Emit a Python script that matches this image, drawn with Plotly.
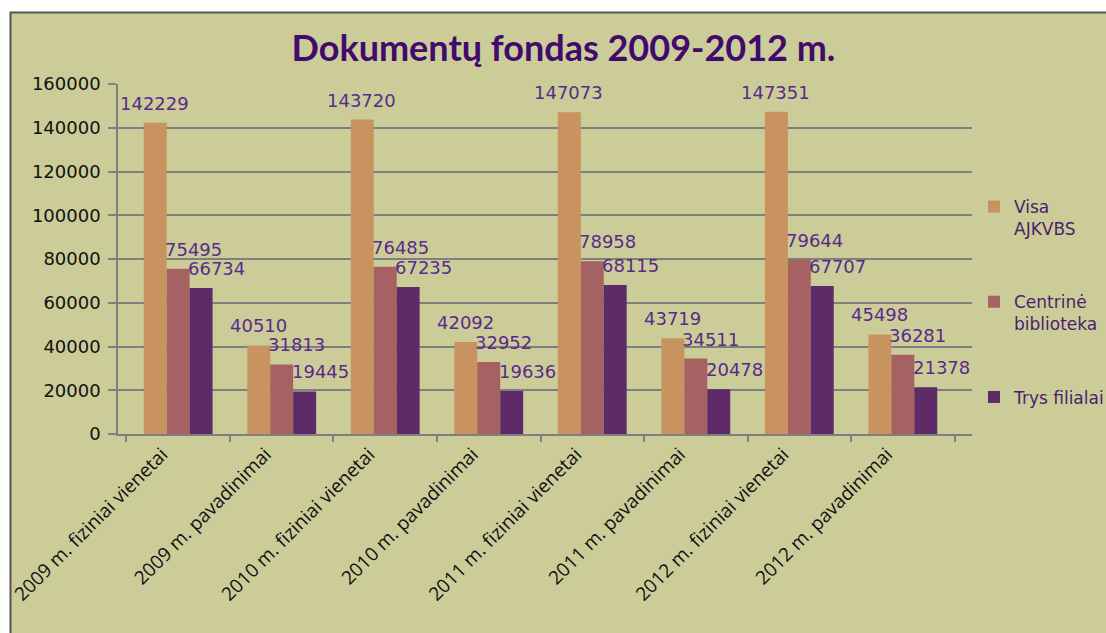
import plotly.graph_objects as go

categories = [
    "2009 m. fiziniai vienetai",
    "2009 m. pavadinimai",
    "2010 m. fiziniai vienetai",
    "2010 m. pavadinimai",
    "2011 m. fiziniai vienetai",
    "2011 m. pavadinimai",
    "2012 m. fiziniai vienetai",
    "2012 m. pavadinimai",
]
visa = [142229, 40510, 143720, 42092, 147073, 43719, 147351, 45498]
centrine = [75495, 31813, 76485, 32952, 78958, 34511, 79644, 36281]
filialai = [66734, 19445, 67235, 19636, 68115, 20478, 67707, 21378]
series_names = ["Visa<br>AJKVBS", "Centrinė<br>biblioteka", "Trys filialai"]
series_values = [visa, centrine, filialai]
colors = ["#C8935E", "#A66262", "#5E2A68"]
y_ticks = list(range(0, 160001, 20000))

W, H = 1106, 633
L, R, T, B = 118, 972, 84, 434
pw, ph = R - L, B - T


def px(x):
    return (x - L) / pw


def py(y):
    return (B - y) / ph


fig = go.Figure()
for i, (name, vals, col) in enumerate(zip(series_names, series_values, colors)):
    fig.add_trace(go.Bar(
        x=categories, y=vals, name=name,
        marker=dict(color=col, line=dict(width=0)),
        legendgroup=str(i),
    ))

bar_px = pw / len(categories) * 0.665 / 3
extra = [0, 15, 15]
annotations = []
for j, vals in enumerate(series_values):
    for c, v in zip(categories, vals):
        annotations.append(dict(
            x=c, y=v, xref="x", yref="y", text=str(v), showarrow=False,
            xanchor="center", yanchor="bottom",
            xshift=(j - 1) * bar_px + extra[j], yshift=7,
            font=dict(family="DejaVu Sans", size=18, color="#5A2A8A"),
        ))

shapes = [
    dict(type="rect", xref="paper", yref="paper", layer="below",
         x0=px(10.5), x1=px(1300), y0=py(900), y1=py(12.5),
         fillcolor="#CCCC99", line=dict(color="#555555", width=2)),
]

fig.update_layout(
    width=W, height=H,
    margin=dict(l=L, r=W - R, t=T, b=H - B, autoexpand=False),
    paper_bgcolor="white",
    plot_bgcolor="#CCCCCC",
    barmode="group", bargap=0.335, bargroupgap=0,
    title=dict(text="<b>Dokumentų fondas 2009-2012 m.</b>",
               x=563.5 / W, xanchor="center", xref="container",
               y=1 - 48 / H, yanchor="middle", yref="container",
               font=dict(family="Lato", size=36, color="#420A6C")),
    xaxis=dict(
        type="category", tickangle=-45, tickson="boundaries",
        ticks="outside", ticklen=6, tickcolor="#7F7F7F", tickwidth=1.5,
        showline=True, linecolor="#7F7F7F", linewidth=1.5,
        showgrid=False, ticklabelshift=-16,
        tickfont=dict(family="Open Sans", size=19, color="#111111"),
    ),
    yaxis=dict(
        range=[0, 160000], tickvals=y_ticks, tickformat="d",
        ticks="outside", ticklen=8, tickcolor="#7F7F7F", tickwidth=1.5,
        showline=True, linecolor="#7F7F7F", linewidth=1.5,
        showgrid=True, gridcolor="#7F7F7F", gridwidth=1.5,
        zeroline=False, ticklabelstandoff=4,
        tickfont=dict(family="DejaVu Sans", size=18, color="#111111"),
    ),
    legend=dict(
        x=px(974), y=py(189), xanchor="left", yanchor="top",
        bgcolor="rgba(0,0,0,0)", valign="top",
        tracegroupgap=48, itemclick=False,
        font=dict(family="DejaVu Sans", size=17, color="#4B1E6E"),
    ),
    annotations=annotations,
    shapes=shapes,
    showlegend=True,
)

fig.write_html("out.html", config={"displayModeBar": False},
               post_script="document.body.style.margin='0';")
